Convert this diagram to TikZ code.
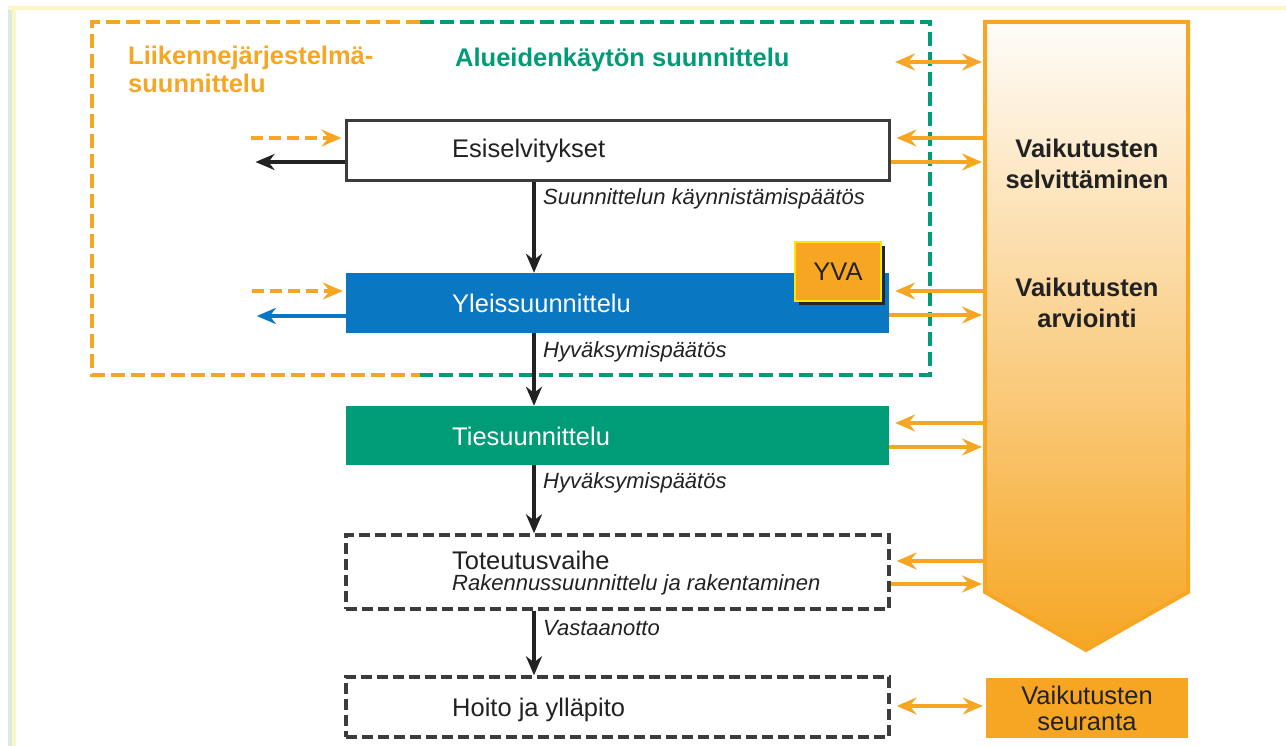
\documentclass[tikz,border=0pt]{standalone}
\usepackage{fontspec}
\setmainfont{Liberation Sans}
\usetikzlibrary{arrows.meta,calc,shadows}

\definecolor{korange}{HTML}{F6A623}
\definecolor{kgreen}{HTML}{009B77}
\definecolor{kblue}{HTML}{0A77C2}
\definecolor{kdark}{HTML}{222222}
\definecolor{kgray}{HTML}{3C3C3C}
\definecolor{kyellow}{HTML}{FFE600}
\definecolor{framegray}{HTML}{DCE8E2}
\definecolor{frameyel}{HTML}{FCF5C6}

\newcommand{\mainsize}{\fontsize{25.5}{30}\selectfont}
\newcommand{\lblsize}{\fontsize{22}{26}\selectfont}

\tikzset{
  stage/.style={minimum width=543pt, minimum height=60pt, inner sep=0pt},
  maintxt/.style={font=\mainsize, text=kdark, inner sep=0pt, anchor=west},
  lbltxt/.style={font=\lblsize\itshape, text=kdark, inner sep=0pt, anchor=west},
  ktip/.style={Stealth[length=19pt,width=16pt,inset=6pt]},
  otip/.style={Stealth[length=20pt,width=17pt,inset=7pt]},
  varr/.style={draw=kdark, line width=3.4pt, -{Stealth[length=19pt,width=16pt,inset=6pt]}},
  oarr/.style={draw=korange, line width=3.4pt, -{Stealth[length=20pt,width=17pt,inset=7pt]}},
  oarrboth/.style={draw=korange, line width=3.4pt, {Stealth[length=20pt,width=17pt,inset=7pt]}-{Stealth[length=20pt,width=17pt,inset=7pt]}},
  odash/.style={draw=korange, line width=3.4pt, dash pattern=on 12pt off 6pt, -{Stealth[length=20pt,width=17pt,inset=7pt]}},
  stagedash/.style={draw=kgray, line width=3.4pt, dash pattern=on 11pt off 5pt},
  framedash/.style={line width=4.6pt, dash pattern=on 14pt off 6pt}
}

\begin{document}
\begin{tikzpicture}[x=1pt, y=-1pt]
\useasboundingbox (0,0) rectangle (1286,746);
\fill[white] (0,0) rectangle (1286,746);

% page edge
\fill[framegray] (8,8) rectangle (12,746);
\fill[frameyel] (12,10) rectangle (16,746);
\fill[frameyel] (8,6) rectangle (1286,10);

% planning frames
\draw[framedash, korange] (420,22) -- (92,22) -- (92,375) -- (420,375);
\draw[framedash, kgreen] (420,22) -- (930,22) -- (930,375) -- (420,375);

\node[font=\fontsize{25.5}{28}\selectfont\bfseries, text=korange, align=left, anchor=north west, inner sep=0pt] (ljs) at (128,46) {Liikennejärjestelmä-\\suunnittelu};
\node[font=\mainsize\bfseries, text=kgreen, anchor=west, inner sep=0pt] (aks) at (455,60) {Alueidenkäytön suunnittelu};

% impact assessment arrow
\shadedraw[draw=korange, line width=4pt, top color=white!97!korange, bottom color=korange]
  (985,22) -- (1188,22) -- (1188,592) -- (1086,650) -- (985,592) -- cycle;
\coordinate (bigW) at (985,0);
\node[font=\fontsize{25.5}{31}\selectfont\bfseries, text=kdark, align=center, inner sep=0pt] (sel) at (1087,164) {Vaikutusten\\selvittäminen};
\node[font=\fontsize{25.5}{31}\selectfont\bfseries, text=kdark, align=center, inner sep=0pt] (arv) at (1087,303) {Vaikutusten\\arviointi};

% stages
\node[stage, draw=kgray, line width=3pt, fill=white] (esi) at (617.5,151) {};
\node[stage, fill=kblue] (yle) at (617.5,303) {};
\node[stage, fill=kgreen, minimum height=59pt] (ties) at (617.5,435.5) {};
\node[stage, stagedash, minimum height=74pt] (tot) at (617.5,572) {};
\node[stage, stagedash] (hoito) at (617.5,707) {};

\node[maintxt] (esiT) at (452,151) {Esiselvitykset};
\node[maintxt, text=white] (yleT) at (452,303) {Yleissuunnittelu};
\node[maintxt, text=white] (tiesT) at (452,436) {Tiesuunnittelu};
\node[maintxt] (totT) at (452,560) {Toteutusvaihe};
\node[lbltxt] (totS) at (452,585) {Rakennussuunnittelu ja rakentaminen};
\node[maintxt] (hoitoT) at (452,710) {Hoito ja ylläpito};

\node[minimum width=86pt, minimum height=59pt, fill=korange, draw=kyellow, line width=2.5pt,
      font=\mainsize, text=kdark,
      drop shadow={shadow xshift=4pt, shadow yshift=-4pt, opacity=1, fill=black!85}] (yva) at (838,271.5) {YVA};

\node[minimum width=202pt, minimum height=60pt, fill=korange, inner sep=0pt,
      font=\fontsize{25.5}{26}\selectfont, text=kdark, align=center] (seur) at (1087,708) {Vaikutusten\\seuranta};

% decisions between stages
\coordinate (ax) at (534,0);
\draw[varr] (esi.south -| ax) -- (yle.north -| ax);
\draw[varr] (yle.south -| ax) -- (ties.north -| ax);
\draw[varr] (ties.south -| ax) -- (tot.north -| ax);
\draw[varr] (tot.south -| ax) -- (hoito.north -| ax);

\node[lbltxt] (d1) at (543,199) {Suunnittelun käynnistämispäätös};
\node[lbltxt] (d2) at (543,352) {Hyväksymispäätös};
\node[lbltxt] (d3) at (543,483) {Hyväksymispäätös};
\node[lbltxt] (d4) at (543,628) {Vastaanotto};

% links to system-level planning
\draw[odash] ($(esi.west)+(-94,-13)$) -- ($(esi.west)+(-3,-13)$);
\draw[varr] ($(esi.west)+(0,11)$) -- ($(esi.west)+(-89,11)$);
\draw[odash] ($(yle.west)+(-94,-12)$) -- ($(yle.west)+(-3,-12)$);
\draw[varr, draw=kblue] ($(yle.west)+(0,13)$) -- ($(yle.west)+(-89,13)$);

% links to impact assessment
\coordinate (topL) at (895,62);
\draw[oarrboth] (topL) -- ($(bigW |- topL)+(-3,0)$);
\draw[oarr] ($(esi.east -| bigW)+(0,-13)$) -- ($(esi.east)+(6,-13)$);
\draw[oarr] ($(esi.east)+(0,11)$) -- ($(esi.east -| bigW)+(-3,11)$);
\draw[oarr] ($(yle.east -| bigW)+(0,-12)$) -- ($(yle.east)+(6,-12)$);
\draw[oarr] ($(yle.east)+(0,12)$) -- ($(yle.east -| bigW)+(-3,12)$);
\draw[oarr] ($(ties.east -| bigW)+(0,-12.5)$) -- ($(ties.east)+(6,-12.5)$);
\draw[oarr] ($(ties.east)+(0,11.5)$) -- ($(ties.east -| bigW)+(-3,11.5)$);
\draw[oarr] ($(tot.east -| bigW)+(0,-11)$) -- ($(tot.east)+(6,-11)$);
\draw[oarr] ($(tot.east)+(0,12)$) -- ($(tot.east -| bigW)+(-3,12)$);
\draw[oarrboth] ($(hoito.east)+(6,-1)$) -- ($(seur.west)+(-3,-2)$);
\end{tikzpicture}
\end{document}
